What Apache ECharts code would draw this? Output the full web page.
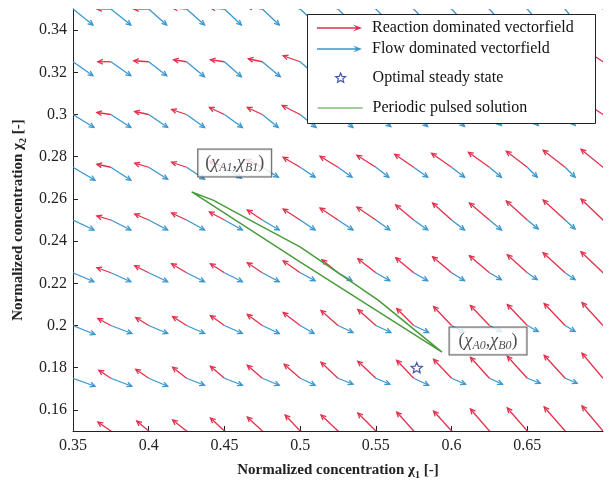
<!DOCTYPE html>
<html>
<head>
<meta charset="utf-8">
<script src="https://cdn.jsdelivr.net/npm/echarts@6/dist/echarts.min.js"></script>
<style>
  html, body { margin: 0; padding: 0; background: #fff; }
  #chart { width: 610px; height: 480px; }
</style>
</head>
<body>
<div id="chart"></div>
<script>
// grid of the quiver plot
const gridX = [0.35, 0.375, 0.4, 0.425, 0.45, 0.475, 0.5, 0.525, 0.55, 0.575, 0.6, 0.625, 0.65, 0.675, 0.7];
const gridY = [0.15, 0.175, 0.2, 0.225, 0.25, 0.275, 0.3, 0.325, 0.35];

// vector components [u, v] (quiver units), one row per gridY
const reactionField = [
  [[-12,9],[-13,9],[-12,10],[-14,11],[-14,13],[-15,14],[-15,16],[-17,16],[-18,18],[-17,19],[-18,20],[-19,22],[-20,23],[-21,24],[-21,25]],
  [[-12,8],[-12,8],[-13,9],[-14,11],[-14,12],[-15,13],[-16,14],[-17,16],[-18,17],[-17,18],[-18,19],[-19,21],[-20,22],[-21,23],[-21,25]],
  [[-13,7],[-13,7],[-13,8],[-14,9],[-14,10],[-15,11],[-17,13],[-17,15],[-18,16],[-17,17],[-18,19],[-19,20],[-20,21],[-21,22],[-21,23]],
  [[-14,5],[-14,5],[-14,7],[-15,9],[-14,9],[-15,10],[-17,12],[-16,13],[-18,14],[-18,15],[-19,16],[-20,17],[-20,18],[-22,20],[-22,21]],
  [[-14,4],[-14,4],[-14,6],[-15,7],[-15,8],[-15,10],[-17,11],[-18,12],[-19,13],[-18,15],[-19,17],[-20,17],[-21,19],[-22,20],[-22,21]],
  [[-14,3],[-14,3],[-14,4],[-15,5],[-15,6],[-16,8],[-17,10],[-18,11],[-19,12],[-19,13],[-20,14],[-21,15],[-21,16],[-22,17],[-22,18]],
  [[-14,2],[-14,2],[-14,3],[-15,5],[-15,7],[-15,7],[-18,9],[-18,10],[-19,11],[-19,12],[-20,12],[-20,13],[-21,13],[-21,14],[-21,14]],
  [[-13,0],[-13,0],[-15,1],[-13,2],[-14,2],[-14,3],[-17,6],[-18,7],[-19,8],[-19,9],[-20,10],[-20,11],[-21,12],[-21,13],[-21,14]],
  [[-14,0],[-14,0],[-15,0],[-14,1],[-14,1],[-15,2],[-16,4],[-17,5],[-18,6],[-18,7],[-19,8],[-19,9],[-20,10],[-20,11],[-21,12]]
];
const flowField = [
  [[22,-7],[21,-7],[19,-7],[18,-6],[18,-6],[17,-6],[15,-6],[15,-5],[14,-5],[14,-5],[14,-5],[13,-5],[12,-4],[12,-4],[11,-4]],
  [[22,-8],[21,-8],[19,-8],[18,-7],[18,-7],[17,-7],[15,-7],[15,-6],[14,-6],[15,-7],[14,-6],[13,-6],[13,-5],[12,-5],[11,-5]],
  [[22,-9],[21,-8],[19,-8],[18,-8],[18,-8],[17,-8],[14,-8],[15,-7],[15,-7],[15,-7],[13,-7],[12,-6],[11,-6],[10,-6],[9,-6]],
  [[21,-9],[20,-9],[19,-9],[18,-9],[18,-9],[17,-9],[15,-8],[14,-8],[14,-8],[14,-8],[13,-8],[12,-7],[10,-7],[10,-7],[9,-7]],
  [[21,-10],[20,-10],[19,-10],[18,-10],[18,-10],[17,-10],[15,-10],[15,-10],[14,-10],[14,-10],[13,-10],[12,-10],[11,-9],[10,-9],[9,-9]],
  [[22,-13],[20,-13],[19,-12],[18,-12],[17,-11],[16,-10],[15,-10],[14,-10],[13,-10],[14,-10],[13,-10],[12,-10],[10,-10],[10,-10],[9,-9]],
  [[21,-13],[20,-13],[19,-13],[18,-13],[18,-13],[16,-13],[16,-13],[15,-13],[15,-12],[14,-12],[13,-12],[12,-11],[11,-11],[10,-11],[9,-10]],
  [[20,-14],[20,-14],[18,-14],[18,-15],[17,-15],[18,-15],[16,-14],[15,-14],[15,-14],[14,-14],[13,-13],[12,-13],[11,-12],[10,-12],[9,-11]],
  [[20,-16],[20,-16],[18,-16],[18,-16],[17,-16],[17,-16],[16,-15],[15,-15],[15,-15],[14,-15],[13,-14],[12,-14],[11,-13],[10,-13],[9,-12]]
];
// quiver scaling: data units per quiver unit
const quiverScaleX = 0.00066;
const quiverScaleY = 0.000474;

// periodic pulsed solution (closed loop)
const pulseX = [0.5937, 0.5726, 0.5515, 0.5264, 0.4999, 0.4669, 0.4425, 0.4284, 0.4999, 0.5937];
const pulseY = [0.1874, 0.1997, 0.2120, 0.2243, 0.2373, 0.2499, 0.2594, 0.2633, 0.2302, 0.1874];

const steadyState = [0.577, 0.18];

const xTicks = [0.35, 0.4, 0.45, 0.5, 0.55, 0.6, 0.65];
const yTicks = [0.16, 0.18, 0.2, 0.22, 0.24, 0.26, 0.28, 0.3, 0.32, 0.34];

const RED = '#e2304c';
const BLUE = '#3a96cf';
const GREEN = '#4a9b3c';
const NAVY = '#1b2f8f';
const FONT = 'Liberation Serif';

function fieldData(field) {
  const out = [];
  gridY.forEach((y, j) => {
    gridX.forEach((x, i) => {
      out.push([x, y, field[j][i][0], field[j][i][1]]);
    });
  });
  return out;
}

function arrowRenderer(color) {
  return function (params, api) {
    const x = api.value(0), y = api.value(1);
    const p0 = api.coord([x, y]);
    const p1 = api.coord([x + api.value(2) * quiverScaleX, y + api.value(3) * quiverScaleY]);
    const ang = Math.atan2(p1[1] - p0[1], p1[0] - p0[0]);
    const h = 5.5, a = 0.45;
    const w1 = [p1[0] - h * Math.cos(ang - a), p1[1] - h * Math.sin(ang - a)];
    const w2 = [p1[0] - h * Math.cos(ang + a), p1[1] - h * Math.sin(ang + a)];
    return {
      type: 'group',
      children: [
        { type: 'line', shape: { x1: p0[0], y1: p0[1], x2: p1[0], y2: p1[1] }, style: { stroke: color, lineWidth: 1.3 } },
        { type: 'polyline', shape: { points: [w1, p1, w2] }, style: { stroke: color, lineWidth: 1.3, fill: null } }
      ]
    };
  };
}

const tickFmt = v => String(+v.toFixed(2));

// legend icons, padded to a 50x10 box
const pad = 'M0,0 M50,10 ';
const arrowIcon = 'path://' + pad + 'M0,4.3 L39,4.3 L36,1.5 L45,5 L36,8.5 L39,5.7 L0,5.7 Z';
const starIcon = 'path://' + pad + 'M23,0 L24.4,3.3 L28,3.5 L25.3,5.8 L26.1,9.3 L23,7.4 L19.9,9.3 L20.7,5.8 L18,3.5 L21.6,3.3 Z';
const lineIcon = 'path://' + pad + 'M0,4.4 L45,4.4 L45,5.6 L0,5.6 Z';
const starSymbol = 'path://M23,0 L24.4,3.3 L28,3.5 L25.3,5.8 L26.1,9.3 L23,7.4 L19.9,9.3 L20.7,5.8 L18,3.5 L21.6,3.3 Z';

const legendText = { fontFamily: FONT, fontSize: 16, color: '#111', lineHeight: 16 };
const nameRich = {
  a: { fontFamily: FONT, fontSize: 15, fontWeight: 'bold', color: '#222', lineHeight: 20 },
  s: { fontFamily: FONT, fontSize: 10, fontWeight: 'bold', color: '#222', lineHeight: 20, verticalAlign: 'bottom' }
};
const boxRich = {
  a: { fontFamily: FONT, fontSize: 18, color: '#222', lineHeight: 21 },
  c: { fontFamily: FONT, fontSize: 18, fontStyle: 'italic', color: '#222', lineHeight: 21 },
  s: { fontFamily: FONT, fontSize: 12, fontStyle: 'italic', color: '#222', lineHeight: 21, verticalAlign: 'bottom' }
};

const chart = echarts.init(document.getElementById('chart'));
chart.setOption({
  animation: false,
  backgroundColor: '#fff',
  grid: { left: 73, right: 7, top: 9, bottom: 49, containLabel: false, outerBoundsMode: 'none' },
  xAxis: {
    type: 'value', min: 0.35, max: 0.7,
    name: '{a|Normalized concentration χ}{s|1}{a| [-]}',
    nameLocation: 'middle', nameGap: 29,
    nameTextStyle: { rich: nameRich },
    axisLine: { lineStyle: { color: '#222', width: 1 } },
    axisTick: { inside: true, length: 5, customValues: xTicks, lineStyle: { color: '#222' } },
    axisLabel: { customValues: xTicks, formatter: tickFmt, fontFamily: FONT, fontSize: 16, color: '#222', margin: 7 },
    splitLine: { show: false }
  },
  yAxis: {
    type: 'value', min: 0.15, max: 0.35,
    name: '{a|Normalized concentration χ}{s|2}{a| [-]}',
    nameLocation: 'middle', nameGap: 12, nameMoveOverlap: true,
    nameTextStyle: { rich: nameRich },
    axisLine: { show: true, lineStyle: { color: '#222', width: 1 } },
    axisTick: { show: true, inside: true, length: 5, customValues: yTicks, lineStyle: { color: '#222' } },
    axisLabel: { customValues: yTicks, formatter: tickFmt, fontFamily: FONT, fontSize: 16, color: '#222', margin: 6 },
    splitLine: { show: false }
  },
  graphic: [
    { type: 'rect', left: 307, top: 14, z: 10, shape: { width: 288, height: 109 },
      style: { fill: '#fff', stroke: '#222', lineWidth: 1 } }
  ],
  legend: [
    {
      orient: 'vertical', left: 317, top: 20, padding: 0, z: 20,
      itemWidth: 50, itemHeight: 10, itemGap: 5, selectedMode: false,
      textStyle: legendText,
      data: [
        { name: 'Reaction dominated vectorfield', icon: arrowIcon, itemStyle: { color: RED } },
        { name: 'Flow dominated vectorfield', icon: arrowIcon, itemStyle: { color: BLUE } }
      ]
    },
    {
      orient: 'vertical', left: 317, top: 70, padding: 0, z: 20,
      itemWidth: 50, itemHeight: 10, itemGap: 14, selectedMode: false,
      textStyle: legendText,
      data: [
        { name: 'Optimal steady state', icon: starIcon, itemStyle: { color: '#fff', borderColor: NAVY, borderWidth: 1.2 } },
        { name: 'Periodic pulsed solution', icon: lineIcon, itemStyle: { color: GREEN } }
      ]
    }
  ],
  series: [
    {
      name: 'Flow dominated vectorfield',
      type: 'custom', clip: true, z: 2,
      itemStyle: { color: BLUE },
      encode: { x: 0, y: 1 },
      renderItem: arrowRenderer(BLUE),
      data: fieldData(flowField)
    },
    {
      name: 'Reaction dominated vectorfield',
      type: 'custom', clip: true, z: 2,
      itemStyle: { color: RED },
      encode: { x: 0, y: 1 },
      renderItem: arrowRenderer(RED),
      data: fieldData(reactionField)
    },
    {
      name: 'Periodic pulsed solution',
      type: 'line', z: 3,
      symbol: 'none', smooth: false,
      lineStyle: { color: GREEN, width: 1.5 },
      itemStyle: { color: GREEN },
      data: pulseX.map((x, i) => [x, pulseY[i]])
    },
    {
      name: 'Optimal steady state',
      type: 'scatter', z: 4,
      symbol: starSymbol, symbolSize: 11, symbolKeepAspect: true,
      itemStyle: { color: '#fff', borderColor: NAVY, borderWidth: 1.2 },
      data: [steadyState]
    },
    {
      name: 'endpoints',
      type: 'scatter', z: 5, symbolSize: 0, silent: true,
      data: [
        { value: [pulseX[7], pulseY[7]], label: { offset: [43, -29], padding: [3, 7, 3, 7], formatter: '{a|(}{c|χ}{s|A1}{a|,}{c|χ}{s|B1}{a|)}' } },
        { value: [pulseX[0], pulseY[0]], label: { offset: [46, -11], padding: [3, 9, 3, 9], formatter: '{a|(}{c|χ}{s|A0}{a|,}{c|χ}{s|B0}{a|)}' } }
      ],
      label: {
        show: true, position: 'inside',
        backgroundColor: '#fff', borderColor: '#333', borderWidth: 1,
        padding: [3, 5, 3, 5], rich: boxRich
      }
    }
  ]
});
</script>
</body>
</html>
